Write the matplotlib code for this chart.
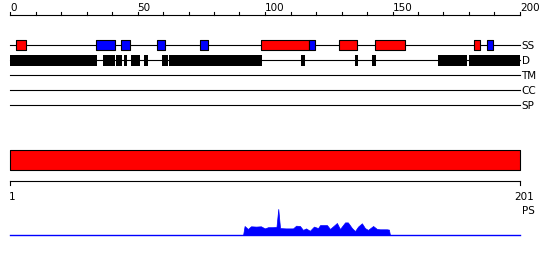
import matplotlib
matplotlib.use("Agg")
import matplotlib.pyplot as plt

# ---- data ----
seq_len = 201
top_ticks_major = [0, 50, 100, 150, 200]
top_ticks_minor = list(range(0, 201, 10))
track_names = ["SS", "D", "TM", "CC", "SP"]

helix = [(2.2, 6.2), (98.4, 117.4), (129.1, 136.2), (143.3, 155.0), (182.1, 184.2)]
strand = [(33.9, 41.0), (43.5, 46.9), (57.8, 60.7), (74.6, 77.5), (117.4, 119.5), (187.2, 189.4)]
disorder = [(0, 34.0), (36.5, 41.2), (41.6, 43.9), (44.7, 45.9), (47.6, 50.9), (52.5, 54.0),
            (59.6, 61.8), (62.5, 98.7), (114.1, 115.6), (135.3, 136.3), (142.0, 143.4),
            (167.8, 179.1), (180.0, 200.0)]

domain = [(1, 201)]

ps_res = [92.4, 93.0, 94.3, 95.5, 97.5, 99.4, 100.9, 102.2, 104.1, 105.5, 106.2, 106.9,
          109.2, 112.0, 113.2, 114.7, 115.9, 117.1, 118.6, 120.2, 121.8, 122.6, 125.3,
          126.5, 129.2, 130.4, 132.4, 133.5, 135.1, 136.3, 137.5, 139.0, 140.2, 141.4,
          143.4, 144.9, 146.1, 148.8, 149.6, 150.0]
ps_val = [0.0, 0.30, 0.20, 0.29, 0.28, 0.29, 0.22, 0.26, 0.26, 0.27, 0.87, 0.23,
          0.22, 0.22, 0.31, 0.30, 0.17, 0.22, 0.14, 0.28, 0.23, 0.33, 0.33,
          0.20, 0.40, 0.20, 0.42, 0.42, 0.23, 0.13, 0.28, 0.39, 0.23, 0.17,
          0.30, 0.20, 0.19, 0.19, 0.18, 0.0]

# ---- layout (pixels) ----
W, H = 550, 260
X0, PXU = 10, 2.55
fig = plt.figure(figsize=(W / 100, H / 100), dpi=100)
ax = fig.add_axes([0, 0, 1, 1])
ax.set_xlim(-X0 / PXU, (W - X0) / PXU)
ax.set_ylim(H, 0)
ax.axis("off")

lw = 0.8
fs = 7.5
font = "DejaVu Sans"

# top scale
ax.plot([0, 200], [15, 15], color="black", lw=lw)
for t in top_ticks_minor:
    ax.plot([t, t], [15, 12], color="black", lw=lw)
for t in top_ticks_major:
    ax.text(t, 10.8, str(t), ha="left", va="baseline", fontsize=fs, family=font)

# tracks
track_y = [45, 60, 75, 90, 105]
for name, y in zip(track_names, track_y):
    ax.plot([0, 200], [y, y], color="black", lw=lw, zorder=1)
    ax.text(200.6, y + 3.7, name, ha="left", va="baseline", fontsize=fs, family=font)

ax.broken_barh([(a, b - a) for a, b in helix], (40, 10), facecolor="#ff0000",
               edgecolor="black", linewidth=lw, zorder=2)
ax.broken_barh([(a, b - a) for a, b in strand], (40, 10), facecolor="#0000ff",
               edgecolor="black", linewidth=lw, zorder=2)
ax.broken_barh([(a, b - a) for a, b in disorder], (55, 11), facecolor="black",
               edgecolor="none", zorder=2)

# domain bar (residues 1..201)
ax.broken_barh([(a - 1, b - a) for a, b in domain], (150, 20), facecolor="#ff0000",
               edgecolor="black", linewidth=lw)

# lower scale
ax.plot([0, seq_len - 1], [180.5, 180.5], color="black", lw=lw)
for r in (1, seq_len):
    ax.plot([r - 1, r - 1], [180.5, 184.5], color="black", lw=lw)
ax.text(0 - 0.4, 199.7, "1", ha="left", va="baseline", fontsize=fs, family=font)
ax.text(seq_len - 1 - 2.4, 199.7, str(seq_len), ha="left", va="baseline", fontsize=fs, family=font)
ax.text(200.9, 213.8, "PS", ha="left", va="baseline", fontsize=fs, family=font)

# PS profile
base = 235
scale = 30
ax.plot([0, seq_len - 1], [base, base], color="#0000ff", lw=1.0)
xs = [r - 1 for r in ps_res]
ys = [base - v * scale for v in ps_val]
ax.fill_between(xs, [base] * len(xs), ys, color="#0000ff", linewidth=0.5)

fig.savefig("out.png", dpi=100)
